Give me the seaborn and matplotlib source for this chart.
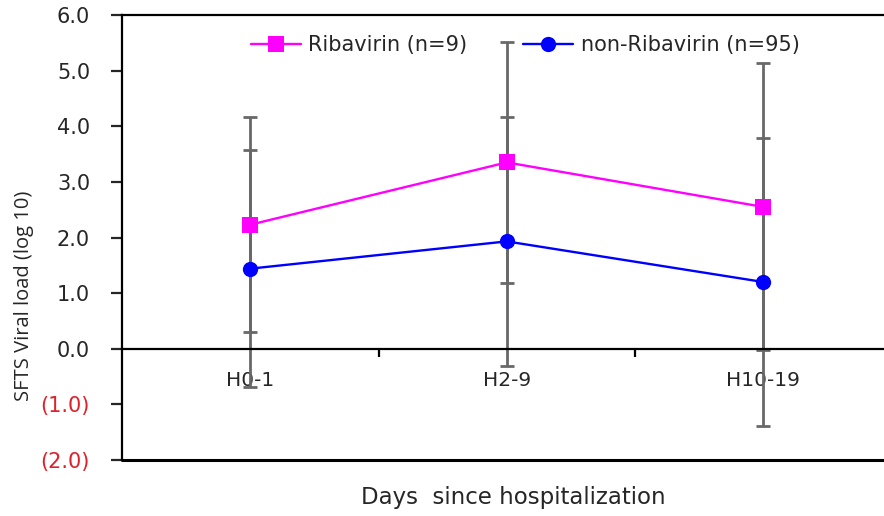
import numpy as np
import pandas as pd
import matplotlib
matplotlib.use("Agg")
import matplotlib.pyplot as plt
from matplotlib.lines import Line2D
from matplotlib.ticker import FixedLocator, FuncFormatter
import seaborn as sns

# Viral load (log10) by hospitalization period, mean and SD
periods = ["H0-1", "H2-9", "H10-19"]
groups = ["Ribavirin (n=9)", "non-Ribavirin (n=95)"]
riba_mean = [2.23, 3.35, 2.55]
riba_sd = [1.93, 2.17, 2.58]
nonriba_mean = [1.44, 1.93, 1.20]
nonriba_sd = [2.13, 2.24, 2.58]
y_ticks = [-2, -1, 0, 1, 2, 3, 4, 5, 6]

colors = {groups[0]: "#ff00ff", groups[1]: "#0000ff"}
markers = {groups[0]: "s", groups[1]: "o"}

pos = list(range(len(periods)))
df = pd.DataFrame({
    "pos": pos * 2,
    "period": periods * 2,
    "group": [groups[0]] * 3 + [groups[1]] * 3,
    "mean": riba_mean + nonriba_mean,
    "sd": riba_sd + nonriba_sd,
})

sns.set_style("white")
plt.rcParams["font.family"] = ["DejaVu Sans"]
TXT = "#262626"

W, H = 884, 516
fig = plt.figure(figsize=(W / 100, H / 100), dpi=100)
ax = fig.add_axes([122 / W, 56 / H, (891.5 - 122) / W, 445 / H])

# error bars behind the lines
for g in groups:
    sub = df[df["group"] == g]
    ax.errorbar(sub["pos"], sub["mean"], yerr=sub["sd"], fmt="none",
                ecolor="#686868", elinewidth=2.0, capsize=5, capthick=2.0,
                zorder=2)

sns.lineplot(data=df, x="pos", y="mean", hue="group", style="group",
             palette=colors, markers=markers, dashes=False, markersize=11,
             markeredgewidth=0, linewidth=1.7, legend=False, ax=ax, zorder=3)

ax.set_xlim(-0.5, 2.5)
ax.set_ylim(-2, 6)

# frame: left, top and a bottom rule; x axis sits at zero
for s in ["left", "top", "bottom"]:
    ax.spines[s].set_color("black")
    ax.spines[s].set_linewidth(1.6)
ax.spines["right"].set_visible(False)
ax.spines["bottom"].set_position(("data", 0))
ax.axhline(-2, color="black", lw=2.2, clip_on=False, zorder=5)

ax.xaxis.set_major_locator(FixedLocator(pos))
ax.set_xticklabels(periods)
ax.xaxis.set_minor_locator(FixedLocator([0.5, 1.5]))
ax.tick_params(axis="x", which="major", length=0, pad=16, labelsize=14.5,
               labelcolor=TXT)
ax.tick_params(axis="x", which="minor", bottom=True, length=6, width=1.6,
               direction="out", color="black")

ax.yaxis.set_major_locator(FixedLocator(y_ticks))
ax.yaxis.set_major_formatter(FuncFormatter(
    lambda v, p: f"({abs(v):.1f})" if v < 0 else f"{v:.1f}"))
ax.tick_params(axis="y", left=True, length=8, width=1.6, direction="out",
               pad=15, labelsize=15, labelcolor=TXT)
for lab, v in zip(ax.get_yticklabels(), y_ticks):
    if v < 0:
        lab.set_color("#e0202a")

ax.set_xlabel("Days  since hospitalization", fontsize=16.5, color=TXT)
ax.xaxis.set_label_coords(0.508, -0.085)
ax.xaxis.label.set_verticalalignment("center")
ax.set_ylabel("SFTS Viral load (log 10)", fontsize=14.5, color=TXT,
              family=["Open Sans", "DejaVu Sans"])
ax.yaxis.set_label_coords(-0.128, 0.368)
ax.yaxis.label.set_verticalalignment("center")

handles = [Line2D([], [], color=colors[g], marker=markers[g], markersize=11,
                  markeredgewidth=0, lw=1.7) for g in groups]
ax.legend(handles, groups, ncol=2, loc="center", bbox_to_anchor=(0.524, 0.933),
          frameon=False, fontsize=15, handlelength=2.4, handletextpad=0.35,
          columnspacing=2.7, labelcolor=TXT)

fig.savefig("out.png", dpi=100, facecolor="white")
